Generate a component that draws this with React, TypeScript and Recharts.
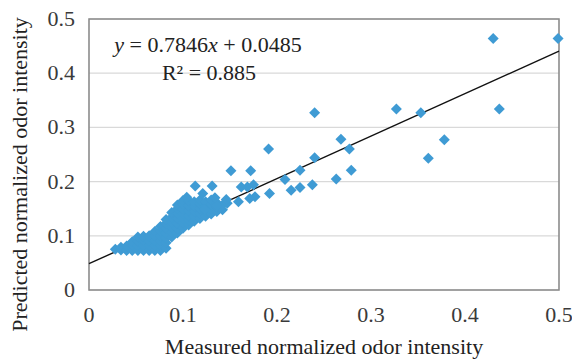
import { ScatterChart, Scatter, XAxis, YAxis, CartesianGrid, ReferenceLine, ReferenceArea, Label } from "recharts";

const FONT = "'Liberation Serif', 'Times New Roman', serif";
const POINT_COLOR = "#3f9bd4";
const BORDER_COLOR = "#8c8c8c";
const GRID_COLOR = "#d9d9d9";

const ticks = [0, 0.1, 0.2, 0.3, 0.4, 0.5];

// fitted trend line from the figure
const slope = 0.7846;
const intercept = 0.0485;

// dense cluster at low intensities (read column by column)
const measuredCluster = [
  0.028,
  0.034, 0.034,
  0.040, 0.040,
  0.046, 0.046, 0.046,
  0.052, 0.052, 0.052, 0.052,
  0.058, 0.058, 0.058, 0.058,
  0.064, 0.064, 0.064, 0.064,
  0.070, 0.070, 0.070, 0.070, 0.070,
  0.076, 0.076, 0.076, 0.076, 0.076, 0.076,
  0.082, 0.082, 0.082, 0.082, 0.082, 0.082, 0.082,
  0.088, 0.088, 0.088, 0.088, 0.088, 0.088,
  0.094, 0.094, 0.094, 0.094, 0.094, 0.094, 0.094,
  0.100, 0.100, 0.100, 0.100, 0.100, 0.100, 0.100,
  0.106, 0.106, 0.106, 0.106, 0.106, 0.106,
  0.112, 0.112, 0.112, 0.112, 0.112,
  0.118, 0.118, 0.118, 0.118, 0.118,
  0.124, 0.124, 0.124, 0.124,
  0.130, 0.130, 0.130, 0.130,
  0.136, 0.136, 0.136,
  0.142, 0.142,
];
const predictedCluster = [
  0.075,
  0.074, 0.079,
  0.073, 0.081,
  0.073, 0.082, 0.089,
  0.073, 0.082, 0.091, 0.098,
  0.073, 0.082, 0.091, 0.099,
  0.073, 0.082, 0.091, 0.100,
  0.073, 0.082, 0.091, 0.100, 0.108,
  0.073, 0.082, 0.091, 0.100, 0.109, 0.117,
  0.077, 0.087, 0.096, 0.105, 0.114, 0.123, 0.130,
  0.098, 0.107, 0.116, 0.125, 0.134, 0.143,
  0.105, 0.114, 0.123, 0.132, 0.141, 0.150, 0.157,
  0.114, 0.123, 0.132, 0.141, 0.150, 0.159, 0.165,
  0.120, 0.129, 0.138, 0.147, 0.156, 0.165,
  0.127, 0.136, 0.145, 0.154, 0.163,
  0.132, 0.141, 0.150, 0.159, 0.166,
  0.136, 0.145, 0.154, 0.163,
  0.140, 0.149, 0.158, 0.166,
  0.145, 0.153, 0.161,
  0.148, 0.157,
];

// scattered points at higher intensities
const measuredHigh = [
  0.430, 0.499, 0.4365, 0.327, 0.353, 0.240, 0.378, 0.361, 0.268, 0.277,
  0.240, 0.279, 0.263, 0.2376, 0.2245, 0.2245, 0.215, 0.2085, 0.191, 0.192,
  0.172, 0.151, 0.1766, 0.171, 0.175, 0.1685, 0.162, 0.159, 0.147, 0.131,
  0.113, 0.136, 0.123, 0.104, 0.121, 0.134, 0.146,
];
const predictedHigh = [
  0.464, 0.464, 0.334, 0.334, 0.327, 0.327, 0.277, 0.243, 0.278, 0.260,
  0.244, 0.221, 0.205, 0.194, 0.221, 0.189, 0.184, 0.204, 0.260, 0.178,
  0.220, 0.220, 0.172, 0.169, 0.194, 0.190, 0.190, 0.163, 0.160, 0.192,
  0.192, 0.156, 0.148, 0.171, 0.178, 0.170, 0.167,
];

const measured = [...measuredCluster, ...measuredHigh];
const predicted = [...predictedCluster, ...predictedHigh];
const data = measured.map((m, i) => ({ measured: m, predicted: predicted[i] }));

const Diamond = (props: any) => {
  const { cx, cy } = props;
  const r = 5.5;
  return (
    <polygon
      points={`${cx},${cy - r} ${cx + r},${cy} ${cx},${cy + r} ${cx - r},${cy}`}
      fill={POINT_COLOR}
    />
  );
};

const XTick = (props: any) => {
  const { x, y, payload } = props;
  return (
    <text x={x} y={y} dy={16} textAnchor="middle" fontFamily={FONT} fontSize={22} fill="#3a3a3a">
      {payload.value}
    </text>
  );
};

const YTick = (props: any) => {
  const { x, y, payload } = props;
  return (
    <text x={x} y={y} dy={7} textAnchor="end" fontFamily={FONT} fontSize={22} fill="#3a3a3a">
      {payload.value}
    </text>
  );
};

const Equation = (props: any) => {
  const { viewBox } = props;
  const cx = viewBox.x + 119;
  return (
    <g fontFamily={FONT} fontSize={22} fill="#222">
      <text x={cx} y={viewBox.y + 33} textAnchor="middle">
        <tspan fontStyle="italic">y</tspan> = 0.7846<tspan fontStyle="italic">x</tspan> + 0.0485
      </text>
      <text x={cx + 1} y={viewBox.y + 61} textAnchor="middle">
        R² = 0.885
      </text>
    </g>
  );
};

const YTitle = (props: any) => {
  const { viewBox } = props;
  const x = 27;
  const y = viewBox.y + viewBox.height / 2 + 20;
  return (
    <text x={x} y={y} transform={`rotate(-90, ${x}, ${y})`} textAnchor="middle" fontFamily={FONT} fontSize={22} fill="#222">
      Predicted normalized odor intensity
    </text>
  );
};

export default function App() {
  return (
    <div style={{ position: "absolute", left: 0, top: 0, background: "#fff" }}>
      <ScatterChart width={572} height={360} margin={{ top: 19, right: 13, left: 0, bottom: 0 }}>
        <CartesianGrid vertical={false} stroke={GRID_COLOR} strokeWidth={1.3} />
        <XAxis
          type="number"
          dataKey="measured"
          domain={[0, 0.5]}
          ticks={ticks}
          height={70}
          tickLine={false}
          axisLine={false}
          tickMargin={10}
          tick={<XTick />}
          interval={0}
        >
          <Label
            value="Measured normalized odor intensity"
            position="insideBottom"
            offset={6}
            style={{ fontFamily: FONT, fontSize: 22, fill: "#222" }}
          />
        </XAxis>
        <YAxis
          type="number"
          dataKey="predicted"
          domain={[0, 0.5]}
          ticks={ticks}
          width={89}
          tickLine={false}
          axisLine={false}
          tickMargin={8}
          tick={<YTick />}
          interval={0}
        >
          <Label content={<YTitle />} />
        </YAxis>
        <Scatter data={data} shape={<Diamond />} isAnimationActive={false} />
        <ReferenceLine
          segment={[
            { x: 0, y: intercept },
            { x: 0.5, y: slope * 0.5 + intercept },
          ]}
          stroke="#111"
          strokeWidth={1.4}
        />
        <ReferenceArea x1={0} x2={0.5} y1={0} y2={0.5} fill="none" stroke={BORDER_COLOR} strokeWidth={1.6} fillOpacity={0}>
          <Label content={<Equation />} />
        </ReferenceArea>
      </ScatterChart>
    </div>
  );
}
